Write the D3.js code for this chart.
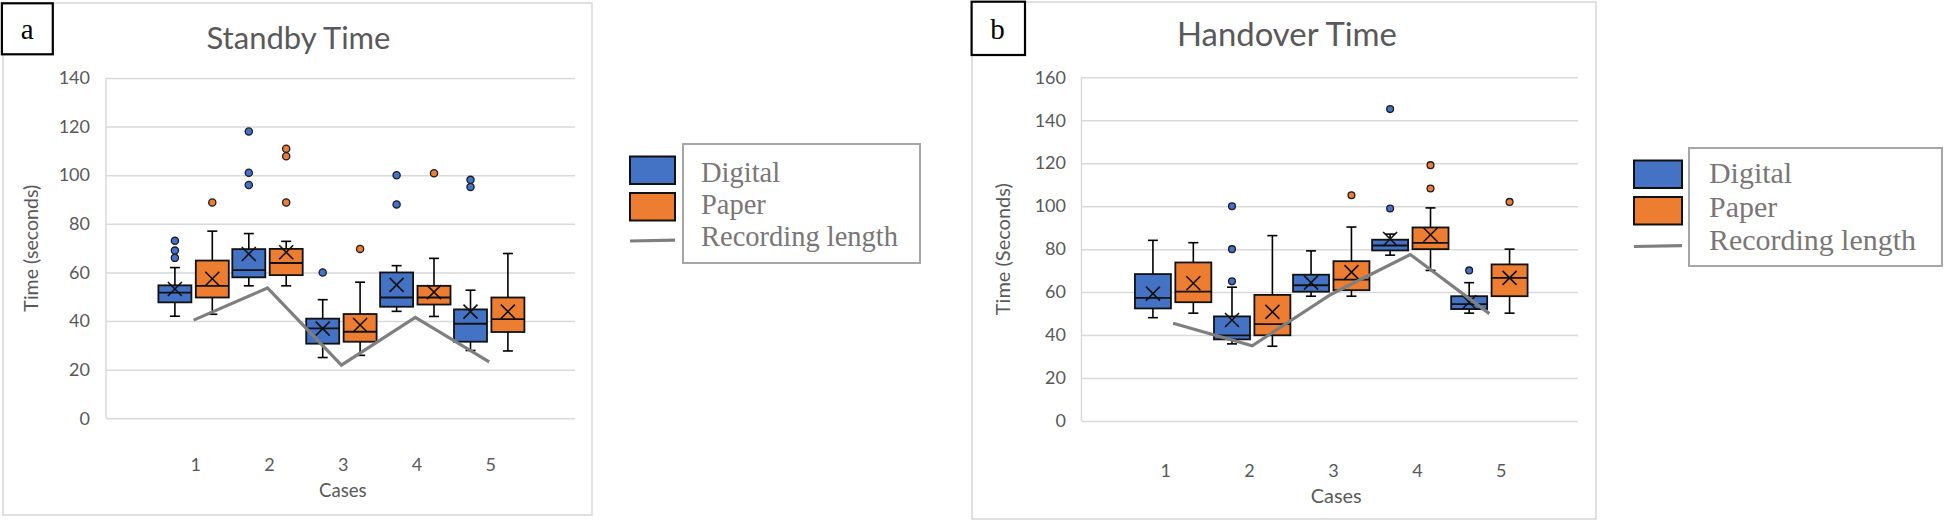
<!DOCTYPE html>
<html>
<head>
<meta charset="utf-8">
<script src="https://cdn.jsdelivr.net/npm/d3@7"></script>
<style>
  html, body { margin: 0; padding: 0; background: #ffffff; }
  svg { display: block; }
</style>
</head>
<body>
<script>
// ---------------- DATA ----------------
const cases = ["1", "2", "3", "4", "5"];
const seriesNames = ["Digital", "Paper"];
const legendLabels = ["Digital", "Paper", "Recording length"];

// Each row per case: [whiskerLow, q1, median, q3, whiskerHigh, mean]
const standbyDigital = [
  [42.0, 47.7, 51.7, 54.7, 62.0, 53.2],
  [54.5, 58.0, 61.0, 69.6, 76.0, 67.6],
  [25.0, 30.7, 37.0, 41.0, 48.8, 36.9],
  [44.0, 45.9, 49.7, 60.0, 62.8, 54.9],
  [27.9, 31.5, 38.9, 44.8, 52.7, 43.9]
];
const standbyPaper = [
  [42.8, 49.7, 54.5, 64.9, 77.0, 57.4],
  [54.5, 58.9, 63.9, 69.7, 72.8, 68.3],
  [25.9, 31.5, 35.6, 42.9, 56.0, 38.4],
  [41.9, 46.8, 49.7, 54.5, 65.8, 51.9],
  [27.7, 35.5, 40.8, 49.7, 67.8, 43.9]
];
const standbyDigitalOutliers = [[66, 69, 73], [96, 101, 118], [60], [88, 100], [95.2, 98.1]];
const standbyPaperOutliers = [[88.8], [88.8, 107.8, 110.9], [69.7], [100.8], []];
const standbyRecording = [40.4, 53.6, 21.9, 41.5, 23.2];
const standbyTicks = [0, 20, 40, 60, 80, 100, 120, 140];

const handoverDigital = [
  [48.1, 52.4, 57.3, 68.4, 84.1, 59.3],
  [35.9, 38.0, 39.9, 48.7, 62.3, 47.0],
  [58.1, 60.2, 63.2, 68.1, 79.2, 64.4],
  [77.2, 79.4, 81.7, 84.4, 87.0, 84.7],
  [50.2, 52.1, 54.4, 58.1, 64.4, 55.3]
];
const handoverPaper = [
  [50.2, 55.3, 60.2, 73.8, 83.0, 64.1],
  [34.8, 39.9, 45.1, 58.7, 86.3, 50.8],
  [58.1, 60.9, 65.8, 74.4, 90.3, 69.3],
  [70.1, 80.0, 82.9, 90.1, 99.2, 86.7],
  [50.2, 58.1, 66.6, 72.9, 80.0, 66.6]
];
const handoverDigitalOutliers = [[], [65, 80, 100], [], [98.9, 145.2], [70.1]];
const handoverPaperOutliers = [[], [], [105.1], [108.2, 119.1], [102]];
const handoverRecording = [45.5, 35.0, 59.0, 77.5, 50.0];
const handoverTicks = [0, 20, 40, 60, 80, 100, 120, 140, 160];

// ---------------- STYLE ----------------
const COLORS = { Digital: "#4472C4", Paper: "#ED7D31" };
const LINE_COLOR = "#7f7f7f";
const TEXT_GRAY = "#595959";
const GRID = "#d9d9d9";
const SANS = "Lato, 'Open Sans', sans-serif";
const SERIF = "'Liberation Serif', 'DejaVu Serif', serif";

const svg = d3.select("body").append("svg")
  .attr("width", 1944).attr("height", 526);
svg.append("rect").attr("width", 1944).attr("height", 526).attr("fill", "#fff");

function fitText(sel, targetWidth) {
  const node = sel.node();
  const fs = parseFloat(sel.attr("font-size"));
  const w = node.getComputedTextLength();
  if (w > 0) sel.attr("font-size", (fs * targetWidth / w).toFixed(2));
  return sel;
}

function drawPanel(cfg) {
  const g = svg.append("g");

  // outer panel border
  g.append("rect")
    .attr("x", cfg.border[0]).attr("y", cfg.border[1])
    .attr("width", cfg.border[2] - cfg.border[0])
    .attr("height", cfg.border[3] - cfg.border[1])
    .attr("fill", "none").attr("stroke", GRID).attr("stroke-width", 1.6);

  // panel letter box
  g.append("rect")
    .attr("x", cfg.letterBox[0]).attr("y", cfg.letterBox[1])
    .attr("width", cfg.letterBox[2] - cfg.letterBox[0])
    .attr("height", cfg.letterBox[3] - cfg.letterBox[1])
    .attr("fill", "#fff").attr("stroke", "#000").attr("stroke-width", 2.2);
  g.append("text")
    .attr("x", cfg.letterX).attr("y", cfg.letterBase)
    .attr("text-anchor", "middle")
    .attr("font-family", SERIF).attr("font-size", 29)
    .attr("fill", "#000").text(cfg.letter);

  // title
  const t = g.append("text")
    .attr("x", cfg.titleX).attr("y", cfg.titleBase)
    .attr("text-anchor", "middle")
    .attr("font-family", SANS).attr("font-size", 30)
    .attr("fill", TEXT_GRAY).text(cfg.title);
  fitText(t, cfg.titleW);

  const P = cfg.plot;
  const y = d3.scaleLinear().domain([0, cfg.yMax]).range([P.bottom, P.top]);
  const x = d3.scaleBand().domain(cases).range(cfg.band).paddingInner(0).paddingOuter(0);
  const inner = d3.scalePoint().domain(seriesNames).range([-2 * cfg.inner, 2 * cfg.inner]).padding(0.5);
  const xLab = d3.scalePoint().domain(cases).range(cfg.labelRange);

  // grid + y tick labels
  const yAxis = d3.axisLeft(y).tickValues(cfg.ticks)
    .tickSize(-(P.right - P.left)).tickPadding(cfg.tickPad).tickFormat(d3.format("d"));
  const ya = g.append("g").attr("transform", `translate(${P.left},0)`).call(yAxis);
  ya.select(".domain").remove();
  ya.selectAll(".tick line").attr("stroke", GRID).attr("stroke-width", 1.5);
  ya.selectAll(".tick text").attr("font-family", SANS).attr("font-size", 18)
    .attr("fill", TEXT_GRAY);

  // plot area left border
  g.append("line")
    .attr("x1", P.left).attr("x2", P.left)
    .attr("y1", y(cfg.yMax)).attr("y2", y(0))
    .attr("stroke", GRID).attr("stroke-width", 1.5);

  // y axis title
  const yt = g.append("text")
    .attr("transform", `translate(${cfg.yTitleX},${(P.top + P.bottom) / 2}) rotate(-90)`)
    .attr("text-anchor", "middle").attr("dominant-baseline", "central")
    .attr("font-family", SANS).attr("font-size", 19)
    .attr("fill", TEXT_GRAY).text(cfg.yTitle);
  fitText(yt, cfg.yTitleW);

  // x labels
  g.append("g").selectAll("text").data(cases).join("text")
    .attr("x", d => xLab(d)).attr("y", cfg.xLabelY)
    .attr("text-anchor", "middle").attr("dominant-baseline", "central")
    .attr("font-family", SANS).attr("font-size", 18)
    .attr("fill", TEXT_GRAY).text(d => d);
  const ct = g.append("text")
    .attr("x", cfg.casesX).attr("y", cfg.casesY)
    .attr("text-anchor", "middle").attr("dominant-baseline", "central")
    .attr("font-family", SANS).attr("font-size", 18)
    .attr("fill", TEXT_GRAY).text("Cases");
  fitText(ct, cfg.casesW);

  // boxes
  const bw = cfg.boxW, cap = 5, xs = 7;
  cfg.series.forEach(s => {
    const sg = g.append("g");
    s.stats.forEach((st, i) => {
      const [wl, q1, med, q3, wh, mean] = st;
      const cx = x(cases[i]) + x.bandwidth() / 2 + inner(s.name);
      const bg = sg.append("g");
      // whiskers
      bg.append("line").attr("x1", cx).attr("x2", cx).attr("y1", y(wh)).attr("y2", y(q3))
        .attr("stroke", "#000").attr("stroke-width", 1.6);
      bg.append("line").attr("x1", cx).attr("x2", cx).attr("y1", y(q1)).attr("y2", y(wl))
        .attr("stroke", "#000").attr("stroke-width", 1.6);
      bg.append("line").attr("x1", cx - cap).attr("x2", cx + cap).attr("y1", y(wh)).attr("y2", y(wh))
        .attr("stroke", "#000").attr("stroke-width", 1.6);
      bg.append("line").attr("x1", cx - cap).attr("x2", cx + cap).attr("y1", y(wl)).attr("y2", y(wl))
        .attr("stroke", "#000").attr("stroke-width", 1.6);
      // box
      bg.append("rect")
        .attr("x", cx - bw / 2).attr("y", y(q3))
        .attr("width", bw).attr("height", y(q1) - y(q3))
        .attr("fill", COLORS[s.name]).attr("stroke", "#111").attr("stroke-width", 1.8);
      // median
      bg.append("line").attr("x1", cx - bw / 2).attr("x2", cx + bw / 2)
        .attr("y1", y(med)).attr("y2", y(med))
        .attr("stroke", "#111").attr("stroke-width", 1.8);
      // mean
      const my = y(mean);
      bg.append("path")
        .attr("d", `M${cx - xs},${my - xs}L${cx + xs},${my + xs}M${cx + xs},${my - xs}L${cx - xs},${my + xs}`)
        .attr("stroke", "#111").attr("stroke-width", 1.6).attr("fill", "none");
      // outliers
      bg.selectAll("circle").data(s.outliers[i]).join("circle")
        .attr("cx", cx).attr("cy", d => y(d)).attr("r", cfg.outR)
        .attr("fill", COLORS[s.name]).attr("stroke", "#1a1a2a").attr("stroke-width", 1.3);
    });
  });

  // recording length line
  const line = d3.line()
    .x((d, i) => x(cases[i]) + x.bandwidth() / 2)
    .y(d => y(d));
  g.append("path").datum(cfg.recording)
    .attr("d", line).attr("fill", "none")
    .attr("stroke", LINE_COLOR).attr("stroke-width", 3.2);

  // legend
  const L = cfg.legend;
  g.append("rect").attr("x", L.swX).attr("y", L.blueY).attr("width", L.swW).attr("height", L.swH)
    .attr("fill", COLORS.Digital).attr("stroke", "#111").attr("stroke-width", 2);
  g.append("rect").attr("x", L.swX).attr("y", L.orangeY).attr("width", L.swW).attr("height", L.swH)
    .attr("fill", COLORS.Paper).attr("stroke", "#111").attr("stroke-width", 2);
  g.append("line").attr("x1", L.swX).attr("x2", L.swX + L.swW)
    .attr("y1", L.lineY).attr("y2", L.lineY - 0.8)
    .attr("stroke", LINE_COLOR).attr("stroke-width", 3.2);
  g.append("rect").attr("x", L.box[0]).attr("y", L.box[1])
    .attr("width", L.box[2] - L.box[0]).attr("height", L.box[3] - L.box[1])
    .attr("fill", "#fff").attr("stroke", "#a6a6a6").attr("stroke-width", 2);
  const lt = g.append("g").selectAll("text").data(legendLabels).join("text")
    .attr("x", L.textX).attr("y", (d, i) => L.base[i])
    .attr("font-family", SERIF).attr("font-size", 28)
    .attr("fill", "#7a7676").text(d => d);
  const last = d3.select(lt.nodes()[2]);
  const w = last.node().getComputedTextLength();
  lt.attr("font-size", (28 * L.textW / w).toFixed(2));
}

drawPanel({
  title: "Standby Time", titleX: 298.5, titleBase: 49, titleW: 184,
  letter: "a", letterBox: [1.9, 3.3, 52.8, 54.3], letterX: 27.3, letterBase: 39,
  border: [3, 3, 592, 515],
  plot: { left: 106, right: 575, top: 78, bottom: 418.3 },
  yMax: 140, ticks: standbyTicks, tickPad: 16,
  band: [156.65, 526.15], labelRange: [195.7, 490.7], inner: 18.7, boxW: 33, outR: 3.6,
  xLabelY: 463.7, casesX: 342.8, casesY: 490, casesW: 47.7,
  yTitle: "Time (seconds)", yTitleX: 30, yTitleW: 127,
  series: [
    { name: "Digital", stats: standbyDigital, outliers: standbyDigitalOutliers },
    { name: "Paper", stats: standbyPaper, outliers: standbyPaperOutliers }
  ],
  recording: standbyRecording,
  legend: { swX: 630, swW: 45, blueY: 156.5, orangeY: 193, swH: 27.5, lineY: 241,
            box: [683, 144, 920, 263], textX: 701, base: [182, 213.5, 246], textW: 197 }
});

drawPanel({
  title: "Handover Time", titleX: 1287, titleBase: 46, titleW: 220,
  letter: "b", letterBox: [971.6, 1.7, 1025, 55], letterX: 997.5, letterBase: 38.5,
  border: [972, 2, 1596, 519],
  plot: { left: 1081.5, right: 1578, top: 77.3, bottom: 421 },
  yMax: 160, ticks: handoverTicks, tickPad: 15.5,
  band: [1133.6, 1528.9], labelRange: [1165.7, 1501.3], inner: 20.2, boxW: 36, outR: 3.4,
  xLabelY: 470, casesX: 1336.2, casesY: 495, casesW: 51,
  yTitle: "Time (Seconds)", yTitleX: 1001.8, yTitleW: 132,
  series: [
    { name: "Digital", stats: handoverDigital, outliers: handoverDigitalOutliers },
    { name: "Paper", stats: handoverPaper, outliers: handoverPaperOutliers }
  ],
  recording: handoverRecording,
  legend: { swX: 1634, swW: 48, blueY: 160.5, orangeY: 197, swH: 27.5, lineY: 246.5,
            box: [1689, 148, 1942, 266], textX: 1709, base: [183, 217, 249.5], textW: 207 }
});
</script>
</body>
</html>
